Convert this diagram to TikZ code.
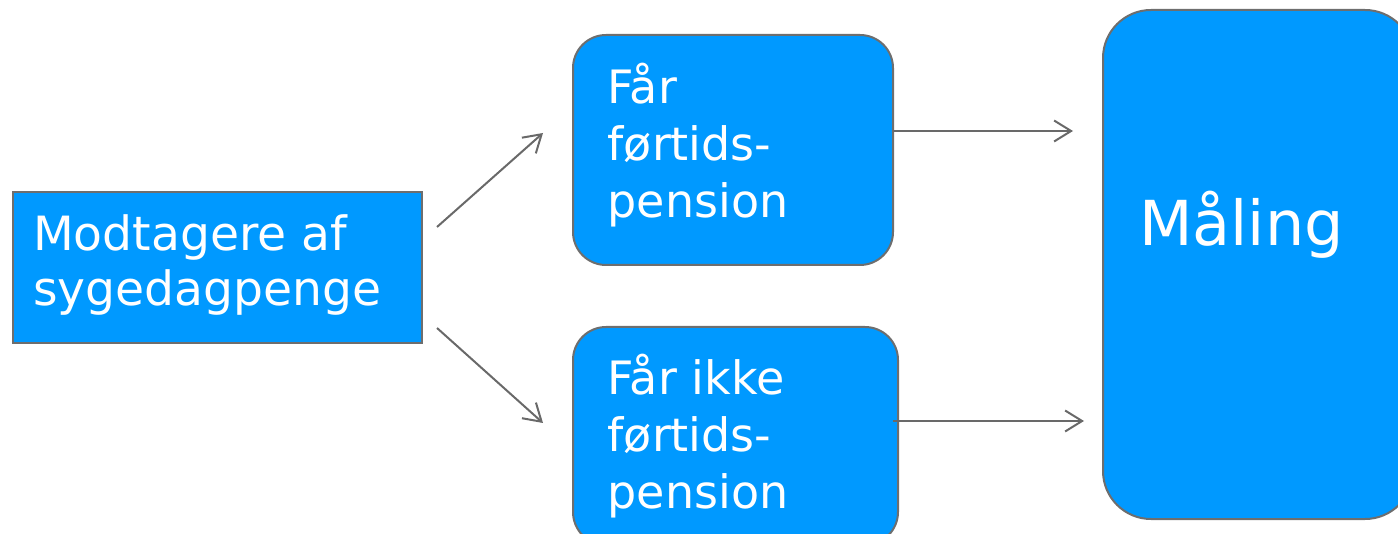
\documentclass[tikz,border=0pt]{standalone}
\usepackage{fontspec}
\setmainfont{DejaVu Sans}
\usetikzlibrary{arrows.meta}
\definecolor{boxblue}{RGB}{0,153,255}
\definecolor{edgegray}{RGB}{110,110,110}
\definecolor{arrowgray}{RGB}{105,105,105}
\begin{document}
\begin{tikzpicture}[x=1pt,y=-1pt,
  box/.style={draw=edgegray, line width=2pt, fill=boxblue, inner sep=0pt, outer sep=0pt, anchor=center},
  txt/.style={text=white, inner sep=0pt, align=left, anchor=west},
  midtext/.style={font=\fontsize{46}{57}\selectfont},
  conn/.style={draw=arrowgray, line width=2pt, -{Straight Barb[length=17pt,width=21pt]}}]
\useasboundingbox (0,0) rectangle (1398,534);
\clip (0,0) rectangle (1398,534);
\node[box, minimum width=409pt, minimum height=151pt] (l) at (217.5,267.5) {};
\node[box, rounded corners=33pt, minimum width=320pt, minimum height=230pt] (t) at (733,150) {};
\node[box, rounded corners=33pt, minimum width=325pt, minimum height=218pt] (b) at (735.5,436) {};
\node[box, rounded corners=48pt, minimum width=310pt, minimum height=509pt] (r) at (1258,264.5) {};
\node[txt, font=\fontsize{47.2}{55}\selectfont] (ltext) at ([xshift=20pt,yshift=3pt]l.west) {Modtagere af\\sygedagpenge};
\node[txt, midtext] (ttext) at ([xshift=34.5pt,yshift=5pt]t.west) {Får\\førtids-\\pension};
\node[txt, midtext] (btext) at ([xshift=34.5pt]b.west) {Får ikke\\førtids-\\pension};
\node[text=white, font=\fontsize{62}{72}\selectfont, anchor=base west, inner sep=0pt] (m) at (1139,246) {Måling};
\draw[conn] ([shift={(15,-40.5)}]l.east) -- ([shift={(-30,-17)}]t.west);
\draw[conn] ([shift={(15,60.5)}]l.east) -- ([shift={(-30,-13)}]b.west);
\draw[conn] ([shift={(0,-19)}]t.east) -- ([shift={(-30,-133.5)}]r.west);
\draw[conn] ([shift={(-5,-15)}]b.east) -- ([shift={(-19,156.5)}]r.west);
\end{tikzpicture}
\end{document}
